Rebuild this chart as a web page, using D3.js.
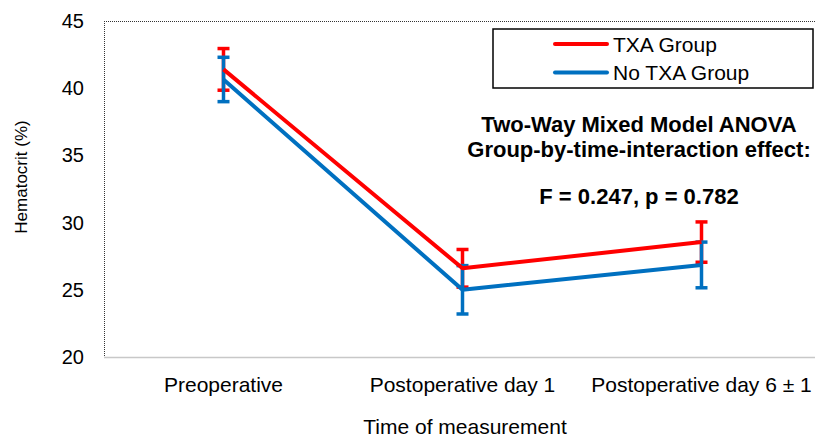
<!DOCTYPE html>
<html><head><meta charset="utf-8">
<script src="https://cdn.jsdelivr.net/npm/d3@7"></script>
<style>body{margin:0;background:#fff}text{font-family:"Liberation Sans",Arial,sans-serif}</style>
</head><body><svg id="c" width="815" height="439"></svg>
<script>
const categories = ["Preoperative", "Postoperative day 1", "Postoperative day 6 \u00b1 1"];
const txaMean = [41.4, 26.6, 28.55];
const txaErr = [1.55, 1.4, 1.5];
const noTxaMean = [40.65, 25.0, 26.85];
const noTxaErr = [1.65, 1.8, 1.7];
const yTicks = [20, 25, 30, 35, 40, 45];
const seriesNames = ["TXA Group", "No TXA Group"];
const colors = ["#FF0000", "#0070C0"];
const annotation = ["Two-Way Mixed Model ANOVA", "Group-by-time-interaction effect:", "F = 0.247, p = 0.782"];

const svg = d3.select("#c");
const L = 104, T = 21, B = 357, R = 821;
const x = d3.scaleBand().domain(categories).range([L, R]);
const y = d3.scaleLinear().domain([20, 45]).range([B, T]);

// frame
svg.append("line").attr("x1", L).attr("x2", 815).attr("y1", T + 0.5).attr("y2", T + 0.5)
  .attr("stroke", "#333").attr("stroke-width", 1).attr("stroke-dasharray", "1,1");
svg.append("line").attr("x1", L + 0.5).attr("x2", L + 0.5).attr("y1", T).attr("y2", B)
  .attr("stroke", "#333").attr("stroke-width", 1).attr("stroke-dasharray", "1,1");
svg.append("line").attr("x1", L).attr("x2", 815).attr("y1", B + 0.5).attr("y2", B + 0.5)
  .attr("stroke", "#c8c8c8").attr("stroke-width", 1.5);

// y axis labels
svg.append("g").selectAll("text").data(yTicks).join("text")
  .attr("x", 84).attr("y", d => y(d)).attr("dy", "0.35em").attr("text-anchor", "end")
  .attr("font-size", 20).attr("fill", "#000").text(d => d);

// x labels
svg.append("g").selectAll("text").data(categories).join("text")
  .attr("x", d => x(d) + x.bandwidth() / 2).attr("y", 392).attr("text-anchor", "middle")
  .attr("font-size", 21).attr("fill", "#000").text(d => d);

svg.append("text").attr("x", 465).attr("y", 434).attr("text-anchor", "middle")
  .attr("font-size", 21).text("Time of measurement");
svg.append("text").attr("transform", "translate(27,177) rotate(-90)").attr("text-anchor", "middle")
  .attr("font-size", 17).text("Hematocrit (%)");

const cx = d => x(d) + x.bandwidth() / 2;
const series = [
  { name: seriesNames[0], mean: txaMean, err: txaErr, color: colors[0] },
  { name: seriesNames[1], mean: noTxaMean, err: noTxaErr, color: colors[1] }
];

// error bars
series.forEach(s => {
  const g = svg.append("g").attr("stroke", s.color).attr("stroke-width", 3.5);
  categories.forEach((c, i) => {
    const lo = y(s.mean[i] - s.err[i]), hi = y(s.mean[i] + s.err[i]);
    g.append("line").attr("x1", cx(c)).attr("x2", cx(c)).attr("y1", lo).attr("y2", hi);
    g.append("line").attr("x1", cx(c) - 6).attr("x2", cx(c) + 6).attr("y1", lo).attr("y2", lo);
    g.append("line").attr("x1", cx(c) - 6).attr("x2", cx(c) + 6).attr("y1", hi).attr("y2", hi);
  });
});

// lines
const line = d3.line().x((d, i) => cx(categories[i])).y(d => y(d));
[series[1], series[0]].forEach(s => {
  svg.append("path").datum(s.mean).attr("d", line).attr("fill", "none")
    .attr("stroke", s.color).attr("stroke-width", 4).attr("stroke-linejoin", "round");
});

// legend
svg.append("rect").attr("x", 493).attr("y", 29).attr("width", 320).attr("height", 59)
  .attr("fill", "#fff").attr("stroke", "#000").attr("stroke-width", 1.5);
series.forEach((s, i) => {
  const ly = 44 + i * 28.5;
  svg.append("line").attr("x1", 555).attr("x2", 607).attr("y1", ly).attr("y2", ly)
    .attr("stroke", s.color).attr("stroke-width", 4).attr("stroke-linecap", "round");
  svg.append("text").attr("x", 613).attr("y", ly).attr("dy", "0.36em").attr("font-size", 21).text(s.name);
});

// annotation
const ay = [132, 157, 204];
annotation.forEach((t, i) => {
  svg.append("text").attr("x", 639).attr("y", ay[i]).attr("text-anchor", "middle")
    .attr("font-size", 22).attr("font-weight", "bold").text(t);
});
</script></body></html>
